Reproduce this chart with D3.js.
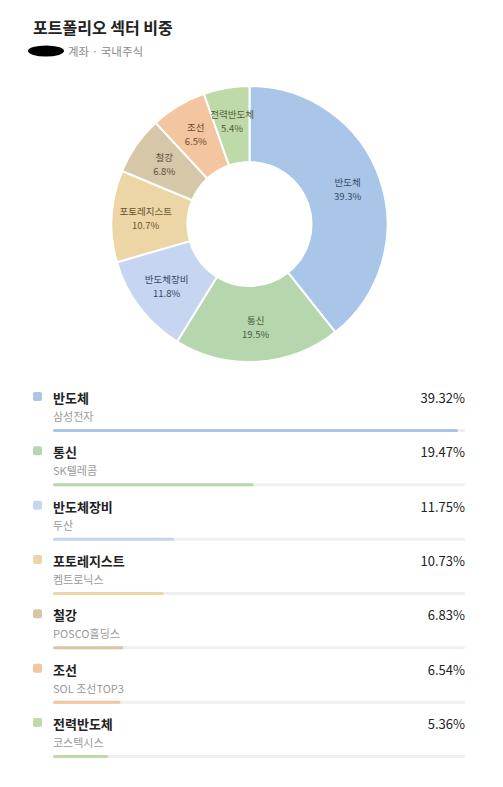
<!DOCTYPE html>
<html><head><meta charset="utf-8">
<script src="https://cdn.jsdelivr.net/npm/d3@7"></script>
<style>
html,body{margin:0;padding:0;background:#fff;}
svg{display:block;font-family:"Noto Sans CJK KR","Noto Sans",sans-serif;}
</style></head>
<body><svg id="chart" width="503" height="787"></svg>
<script>
const title = "포트폴리오 섹터 비중";
const subtitle = "계좌 · 국내주식";
const sectors = ["반도체","통신","반도체장비","포토레지스트","철강","조선","전력반도체"];
const weights = [39.32,19.47,11.75,10.73,6.83,6.54,5.36];
const holdings = ["삼성전자","SK텔레콤","두산","켐트로닉스","POSCO홀딩스","SOL 조선TOP3","코스텍시스"];
const palette = ["#a9c6e8","#b6d7ae","#c6d6f1","#ecd6a6","#d5c7a7","#f3c5a1","#bfdaa9"];
const barMax = 40;

const data = sectors.map((s,i)=>({sector:s, weight:weights[i], holding:holdings[i]}));
const color = d3.scaleOrdinal().domain(sectors).range(palette);
const labelColor = s => { const h = d3.hsl(color(s)); h.l = 0.3; h.s = h.s*0.55; return h.formatHex(); };

const svg = d3.select("#chart");

// header
svg.append("text").attr("x",33).attr("y",34).attr("font-size",16).attr("font-weight",700)
  .attr("fill","#222").text(title);
svg.append("ellipse").attr("cx",46).attr("cy",51).attr("rx",18).attr("ry",5.5).attr("fill","#000");
svg.append("text").attr("x",68).attr("y",56).attr("font-size",11.5).attr("fill","#8a8a8a").text(subtitle);

// donut
const cx = 249.5, cy = 224, rOuter = 138, rInner = 62;
const pie = d3.pie().sort(null).value(d=>d.weight);
const arc = d3.arc().innerRadius(rInner).outerRadius(rOuter);
const labelArc = d3.arc().innerRadius(rInner+42).outerRadius(rInner+42);
const g = svg.append("g").attr("transform",`translate(${cx},${cy})`);
const arcs = pie(data);
g.selectAll("path").data(arcs).join("path")
  .attr("d",arc).attr("fill",d=>color(d.data.sector))
  .attr("stroke","#fff").attr("stroke-width",2);
const lab = g.selectAll("g.lab").data(arcs).join("g").attr("class","lab")
  .attr("transform",d=>`translate(${labelArc.centroid(d)})`);
lab.append("text").attr("text-anchor","middle").attr("y",-3.5).attr("font-size",9.5)
  .attr("fill",d=>labelColor(d.data.sector)).text(d=>d.data.sector);
lab.append("text").attr("text-anchor","middle").attr("y",10.5).attr("font-size",9.5)
  .attr("fill",d=>labelColor(d.data.sector)).text(d=>d.data.weight.toFixed(1)+"%");

// legend list
const x0 = 53, x1 = 465;
const xBar = d3.scaleLinear().domain([0,barMax]).range([x0,x1]);
const yRow = d3.scalePoint().domain(sectors).range([398,724]);
const rows = svg.selectAll("g.row").data(data).join("g").attr("class","row")
  .attr("transform",d=>`translate(0,${yRow(d.sector)})`);
rows.append("rect").attr("x",33).attr("y",-6).attr("width",9).attr("height",9).attr("rx",2)
  .attr("fill",d=>color(d.sector));
rows.append("text").attr("x",x0).attr("y",5).attr("font-size",13).attr("font-weight",700)
  .attr("fill","#222").text(d=>d.sector);
rows.append("text").attr("x",x1).attr("y",5).attr("font-size",13).attr("text-anchor","end")
  .attr("fill","#222").text(d=>d.weight.toFixed(2)+"%");
rows.append("text").attr("x",x0).attr("y",23).attr("font-size",11).attr("fill","#9a9a9a")
  .text(d=>d.holding);
rows.append("rect").attr("x",x0).attr("y",31).attr("width",x1-x0).attr("height",3).attr("rx",1.5)
  .attr("fill","#efefef");
rows.append("rect").attr("x",x0).attr("y",31).attr("width",d=>xBar(d.weight)-x0).attr("height",3).attr("rx",1.5)
  .attr("fill",d=>color(d.sector));
</script></body></html>
